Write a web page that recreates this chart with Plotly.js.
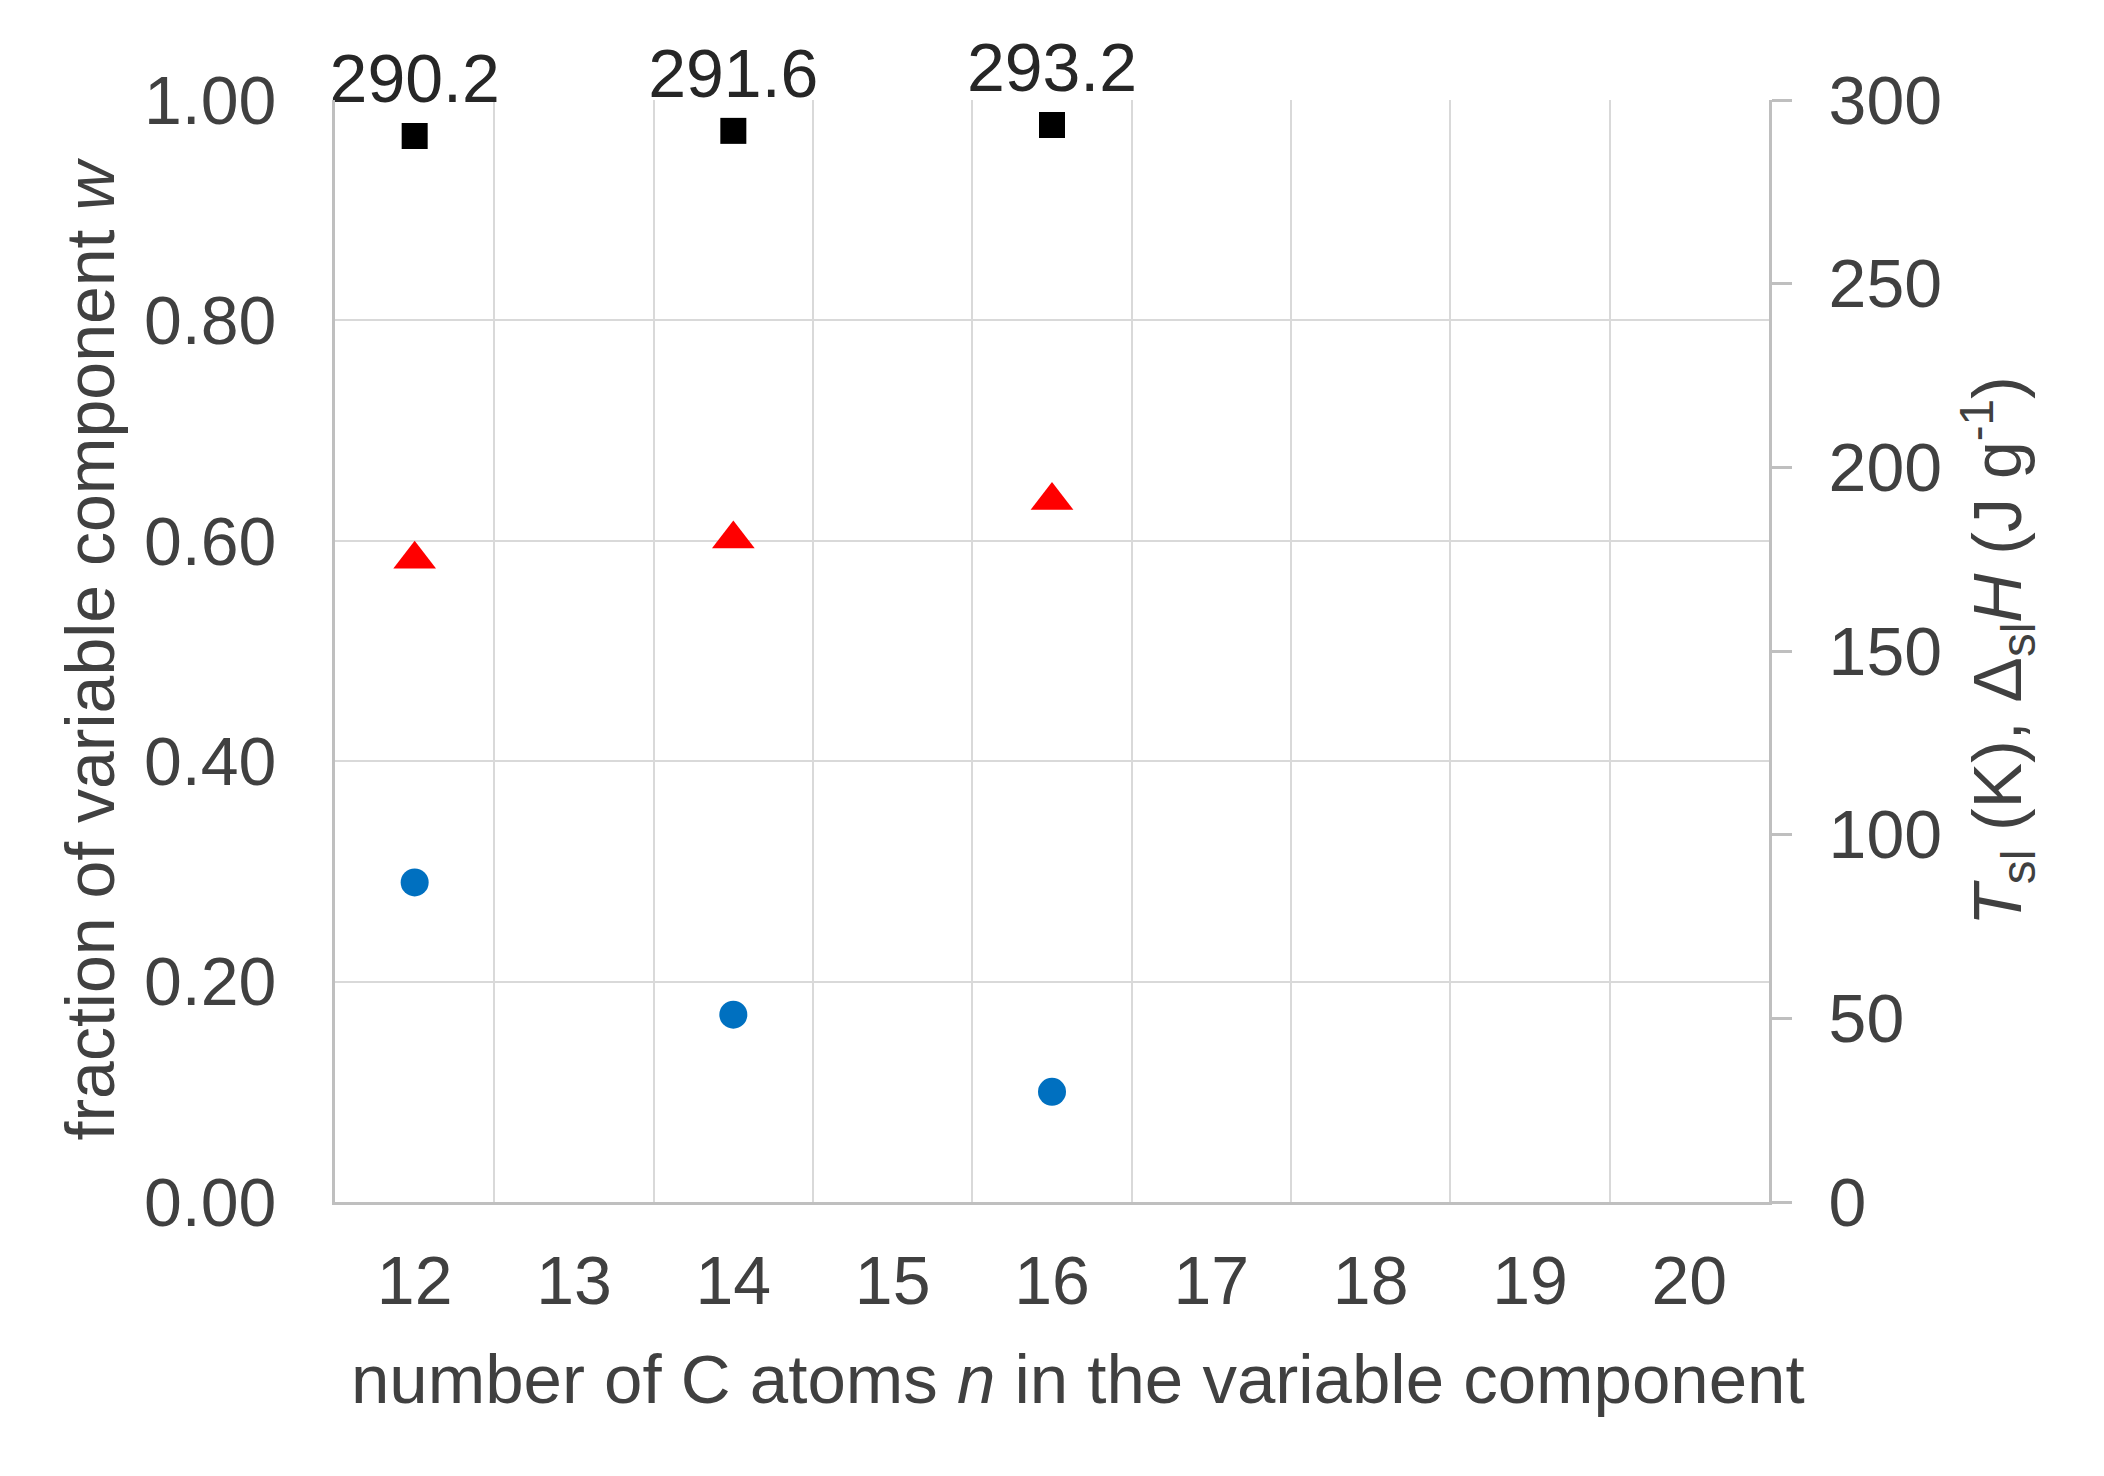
<!DOCTYPE html>
<html>
<head>
<meta charset="utf-8">
<script src="https://cdn.plot.ly/plotly-3.0.1.min.js"></script>
<style>html,body{margin:0;padding:0;background:#fff;}#chart{width:2104px;height:1476px;}</style>
</head>
<body>
<div id="chart"></div>
<script>
// Data
const nValues = [12, 14, 16];
const fractionW = [0.29, 0.17, 0.10];          // left axis, blue circles
const meltingT = [290.2, 291.6, 293.2];        // right axis, black squares (K)
const enthalpyH = [175, 180.5, 191];           // right axis, red triangles (J/g)
const xTickVals = [12, 13, 14, 15, 16, 17, 18, 19, 20];
const xTickText = ['12', '13', '14', '15', '16', '17', '18', '19', '20'];

const FONT = 'Liberation Sans, Arial, sans-serif';
const TXT = '#404040';
const GRID = '#D9D9D9';
const LINE = '#BFBFBF';
const FS = 68;

const traces = [
  {
    x: nValues, y: fractionW, xaxis: 'x', yaxis: 'y',
    mode: 'markers', type: 'scatter', name: 'w',
    marker: {symbol: 'circle', size: 28, color: '#0070C0'},
    cliponaxis: false
  },
  {
    x: nValues, y: enthalpyH, xaxis: 'x', yaxis: 'y2',
    mode: 'markers', type: 'scatter', name: 'ΔH',
    marker: {symbol: 'triangle-up', size: 37, color: '#FF0000'},
    cliponaxis: false
  },
  {
    x: nValues, y: meltingT, xaxis: 'x', yaxis: 'y2',
    mode: 'markers+text', type: 'scatter', name: 'T',
    marker: {symbol: 'square', size: 26, color: '#000000'},
    texttemplate: '%{y:.1f}', textposition: 'top center',
    textfont: {family: FONT, size: FS, color: '#262626'},
    cliponaxis: false
  }
];

const layout = {
  width: 2104, height: 1476,
  paper_bgcolor: '#ffffff', plot_bgcolor: '#ffffff',
  margin: {l: 335, r: 335, t: 100, b: 274},
  showlegend: false,
  font: {family: FONT, size: FS, color: TXT},
  xaxis: {
    range: [11.5, 20.5], tickmode: 'array', tickvals: xTickVals, ticktext: xTickText,
    ticks: '', showgrid: false,
    minor: {tickmode: 'linear', tick0: 11.5, dtick: 1, ticks: '', showgrid: true, gridcolor: GRID, gridwidth: 2},
    showline: true, linecolor: LINE, linewidth: 3,
    zeroline: false,
    ticklabelstandoff: 17,
    tickfont: {family: FONT, size: FS, color: TXT}
  },
  yaxis: {
    range: [0, 1], tickmode: 'linear', tick0: 0, dtick: 0.2, tickformat: '.2f',
    ticks: '', showgrid: true, gridcolor: GRID, gridwidth: 2,
    showline: true, linecolor: LINE, linewidth: 3, zeroline: false,
    ticklabelstandoff: 42,
    tickfont: {family: FONT, size: FS, color: TXT},
    title: {text: 'fraction of variable component <i>w</i>', standoff: 8,
            font: {family: FONT, size: FS, color: TXT}}
  },
  yaxis2: {
    overlaying: 'y', side: 'right', anchor: 'x',
    range: [0, 300], tickmode: 'linear', tick0: 0, dtick: 50,
    ticks: 'outside', ticklen: 20, tickwidth: 3, tickcolor: LINE,
    showgrid: false, zeroline: false,
    showline: true, linecolor: LINE, linewidth: 3,
    ticklabelstandoff: 23,
    tickfont: {family: FONT, size: FS, color: TXT},
    title: {text: '<i>T</i><sub>sl</sub> (K), Δ<sub>sl</sub><i>H</i> (J g<sup>-1</sup>)', standoff: 33,
            font: {family: FONT, size: FS, color: TXT}}
  },
  annotations: [{
    text: 'number of C atoms <i>n</i> in the variable component',
    xref: 'paper', yref: 'paper', x: 0.518, y: -0.1615,
    xanchor: 'center', yanchor: 'middle', showarrow: false,
    font: {family: FONT, size: 69, color: TXT}
  }]
};

Plotly.newPlot('chart', traces, layout, {staticPlot: true, displayModeBar: false});
</script>
</body>
</html>
